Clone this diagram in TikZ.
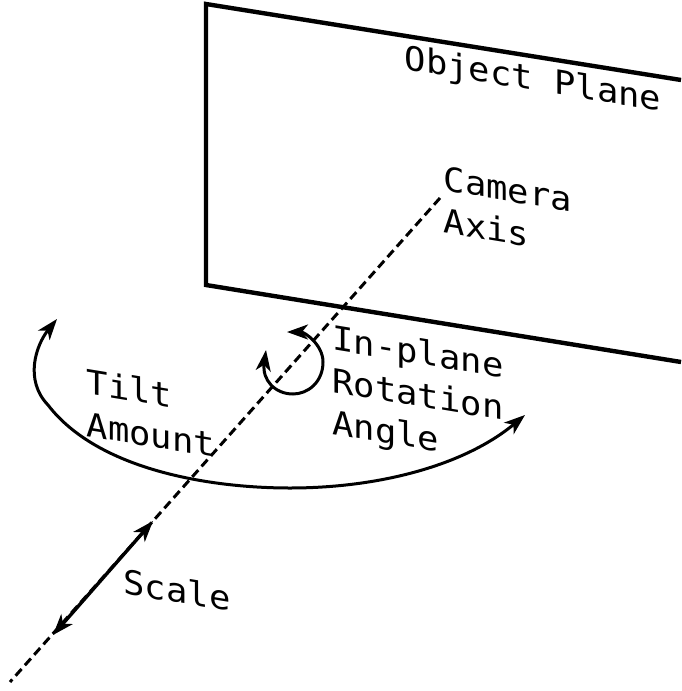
\documentclass[tikz,border=0pt]{standalone}
\usepackage{fontspec}
\setmonofont{DejaVu Sans Mono}
\usetikzlibrary{arrows.meta}

\begin{document}
\begin{tikzpicture}[x=1pt,y=-1pt,>={Stealth[length=21pt,width=15pt,inset=6pt]},
  label/.style={font=\fontsize{35.5}{45}\selectfont\ttfamily,align=left,inner sep=0pt,yslant=-0.165,yscale=0.94,transform shape}]
  \useasboundingbox (0,0) rectangle (681,691);
  \coordinate (p0) at (681,80);
  \coordinate (p1) at (206,4);
  \coordinate (p2) at (206,285);
  \coordinate (p3) at (681,362);
  \coordinate (axisTop) at (440,198);
  \coordinate (axisEnd) at (10,682);
  \coordinate (scaleA) at (153,521);
  \coordinate (scaleB) at (53,635);
  \coordinate (tiltA) at (57,319);
  \coordinate (tiltB) at (525,415);
  \coordinate (rollA) at (287,332);
  \coordinate (rollB) at (266,350);
  \draw[line width=4.4pt, miter limit=10] (p0) -- (p1) -- (p2) -- (p3);
  \draw[line width=3pt, dash pattern=on 9pt off 5pt] (axisTop) -- (axisEnd);
  \draw[<->, line width=3.4pt] (scaleA) -- (scaleB);
  \draw[<->, line width=3pt] (tiltA) .. controls (36,345) and (24,380) .. (48,405) .. controls (98,470) and (210,488) .. (290,488) .. controls (380,488) and (465,465) .. (tiltB);
  \draw[<->, line width=3pt] (rollA) .. controls (305,332) and (323,345) .. (323,362) .. controls (323,382) and (308,394) .. (293,394) .. controls (275,394) and (262,380) .. (rollB);
  \node[label] (plane) at (533,81) {Object Plane};
  \node[label] (axis) at (508,210) {Camera\\Axis};
  \node[label] (rotation) at (418,397) {In-plane\\Rotation\\Angle};
  \node[label] (tilt) at (151,413) {Tilt\\Amount};
  \node[label] (scale) at (177,590) {Scale};
\end{tikzpicture}
\end{document}
